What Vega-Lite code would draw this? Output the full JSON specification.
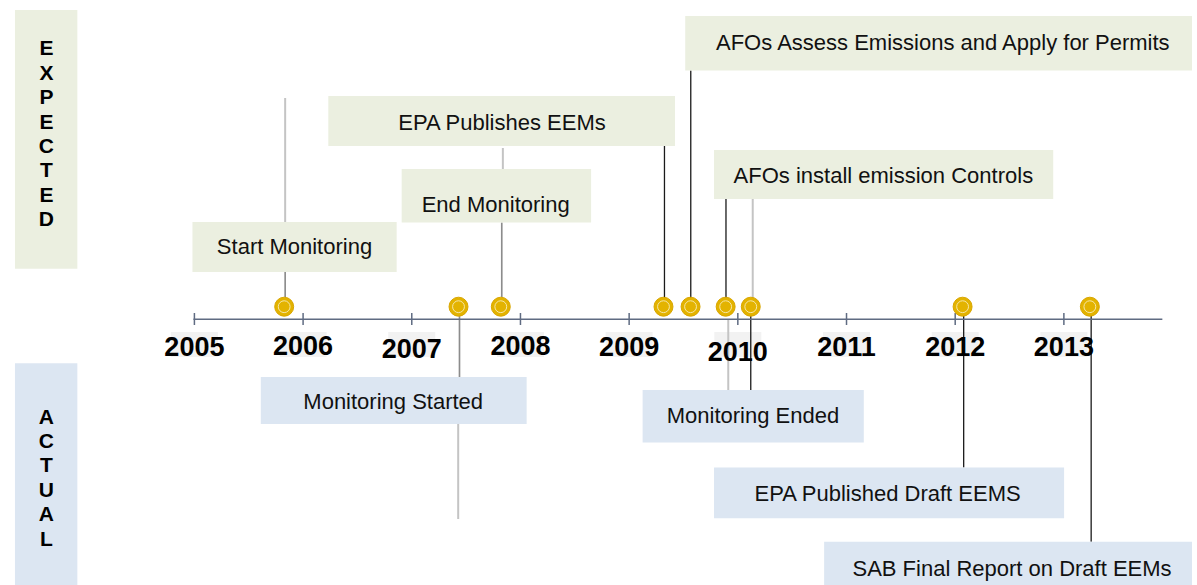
{
  "$schema": "https://vega.github.io/schema/vega-lite/v6.json",
  "width": 1197,
  "height": 585,
  "padding": 0,
  "autosize": {"type": "none"},
  "background": "white",
  "config": {"view": {"stroke": null}},
  "datasets": {
    "panels": [
      {"label": "E\nX\nP\nE\nC\nT\nE\nD", "group": "Expected", "t0": 2003.349, "t1": 2003.923, "top": 31.0, "bottom": 5.13, "tx": 2003.638, "ty": 28.16},
      {"label": "A\nC\nT\nU\nA\nL", "group": "Actual", "t0": 2003.349, "t1": 2003.923, "top": -4.33, "bottom": -26.5, "tx": 2003.638, "ty": -8.67}
    ],
    "events": [
      {"event": "Start Monitoring", "group": "Expected", "t0": 2004.982, "t1": 2006.861, "top": 9.8, "bottom": 4.8, "tx": 2005.921, "ty": 7.3},
      {"event": "EPA Publishes EEMs", "group": "Expected", "t0": 2006.232, "t1": 2009.422, "top": 22.4, "bottom": 17.4, "tx": 2007.830, "ty": 19.67},
      {"event": "End Monitoring", "group": "Expected", "t0": 2006.907, "t1": 2008.650, "top": 15.1, "bottom": 9.75, "tx": 2007.772, "ty": 11.5},
      {"event": "AFOs Assess Emissions and Apply for Permits", "group": "Expected", "t0": 2009.516, "t1": 2014.179, "top": 30.4, "bottom": 24.95, "tx": 2011.886, "ty": 27.7},
      {"event": "AFOs install emission Controls", "group": "Expected", "t0": 2009.781, "t1": 2012.902, "top": 17.0, "bottom": 12.1, "tx": 2011.339, "ty": 14.4},
      {"event": "Monitoring Started", "group": "Actual", "t0": 2005.611, "t1": 2008.057, "top": -5.7, "bottom": -10.4, "tx": 2006.829, "ty": -8.24},
      {"event": "Monitoring Ended", "group": "Actual", "t0": 2009.124, "t1": 2011.159, "top": -7.0, "bottom": -12.25, "tx": 2010.139, "ty": -9.58},
      {"event": "EPA Published Draft EEMS", "group": "Actual", "t0": 2009.781, "t1": 2013.002, "top": -14.75, "bottom": -19.83, "tx": 2011.378, "ty": -17.38},
      {"event": "SAB Final Report on Draft EEMs", "group": "Actual", "t0": 2010.794, "t1": 2014.179, "top": -22.17, "bottom": -26.5, "tx": 2012.523, "ty": -24.87}
    ],
    "connectors": [
      {"t": 2005.835, "v1": 22.2, "v2": 9.8, "kind": "faint"},
      {"t": 2005.835, "v1": 4.8, "v2": 2.3, "kind": "gray"},
      {"t": 2007.838, "v1": 17.2, "v2": 15.1, "kind": "faint"},
      {"t": 2007.828, "v1": 9.75, "v2": 2.3, "kind": "gray"},
      {"t": 2009.325, "v1": 17.4, "v2": 2.0, "kind": "main"},
      {"t": 2009.567, "v1": 24.95, "v2": 2.0, "kind": "main"},
      {"t": 2009.891, "v1": 12.1, "v2": 2.0, "kind": "main"},
      {"t": 2010.137, "v1": 12.1, "v2": 2.0, "kind": "faint"},
      {"t": 2007.439, "v1": 0.5, "v2": -5.7, "kind": "gray"},
      {"t": 2007.427, "v1": -10.4, "v2": -19.9, "kind": "faint"},
      {"t": 2010.119, "v1": 0.5, "v2": -7.0, "kind": "main"},
      {"t": 2009.912, "v1": 0.0, "v2": -7.0, "kind": "faint"},
      {"t": 2012.078, "v1": 0.5, "v2": -14.75, "kind": "main"},
      {"t": 2013.251, "v1": 0.5, "v2": -22.17, "kind": "main"}
    ],
    "markers": [
      {"event": "Start Monitoring", "t": 2005.826},
      {"event": "Monitoring Started", "t": 2007.430},
      {"event": "End Monitoring", "t": 2007.819},
      {"event": "EPA Publishes EEMs", "t": 2009.316},
      {"event": "AFOs Assess Emissions and Apply for Permits", "t": 2009.565},
      {"event": "AFOs install emission Controls", "t": 2009.888},
      {"event": "Monitoring Ended", "t": 2010.119},
      {"event": "EPA Published Draft EEMS", "t": 2012.068},
      {"event": "SAB Final Report on Draft EEMs", "t": 2013.239}
    ],
    "years": [
      {"t": 2005, "label": "2005", "ly": -3.6},
      {"t": 2006, "label": "2006", "ly": -3.5},
      {"t": 2007, "label": "2007", "ly": -3.8},
      {"t": 2008, "label": "2008", "ly": -3.5},
      {"t": 2009, "label": "2009", "ly": -3.6},
      {"t": 2010, "label": "2010", "ly": -4.1},
      {"t": 2011, "label": "2011", "ly": -3.6},
      {"t": 2012, "label": "2012", "ly": -3.6},
      {"t": 2013, "label": "2013", "ly": -3.6}
    ],
    "axisline": [{"a": 2004.991, "b": 2013.906}]
  },
  "layer": [
    {
      "data": {"name": "years"},
      "mark": {"type": "bar", "width": 47, "color": "#F2F2F2"},
      "encoding": {
        "x": {"field": "t", "type": "quantitative", "scale": {"domain": [2003.2573, 2014.1788], "nice": false, "zero": false}, "axis": null},
        "y": {"datum": -1.2, "type": "quantitative", "scale": {"domain": [-26.5, 32], "nice": false, "zero": false}, "axis": null},
        "y2": {"datum": -3.7}
      }
    },
    {
      "data": {"name": "connectors"},
      "mark": {"type": "rule"},
      "encoding": {
        "x": {"field": "t", "type": "quantitative", "scale": {"domain": [2003.2573, 2014.1788], "nice": false, "zero": false}, "axis": null},
        "y": {"field": "v1", "type": "quantitative", "scale": {"domain": [-26.5, 32], "nice": false, "zero": false}, "axis": null},
        "y2": {"field": "v2"},
        "color": {"field": "kind", "type": "nominal", "scale": {"domain": ["main", "gray", "faint"], "range": ["#1a1a1a", "#8c8c8c", "#c4c4c4"]}, "legend": null},
        "strokeWidth": {"field": "kind", "type": "ordinal", "scale": {"domain": ["main", "gray", "faint"], "range": [1.3, 2, 1]}, "legend": null}
      }
    },
    {
      "data": {"name": "events"},
      "mark": {"type": "rect"},
      "encoding": {
        "x": {"field": "t0", "type": "quantitative", "scale": {"domain": [2003.2573, 2014.1788], "nice": false, "zero": false}, "axis": null},
        "x2": {"field": "t1"},
        "y": {"field": "top", "type": "quantitative", "scale": {"domain": [-26.5, 32], "nice": false, "zero": false}, "axis": null},
        "y2": {"field": "bottom"},
        "fill": {"field": "group", "type": "nominal", "scale": {"domain": ["Expected", "Actual"], "range": ["#EBEFE0", "#DCE6F2"]}, "legend": null}
      }
    },
    {
      "data": {"name": "events"},
      "mark": {"type": "text", "font": "Liberation Sans, Arial, sans-serif", "fontSize": 22, "color": "#111111", "align": "center", "baseline": "middle"},
      "encoding": {
        "x": {"field": "tx", "type": "quantitative", "scale": {"domain": [2003.2573, 2014.1788], "nice": false, "zero": false}, "axis": null},
        "y": {"field": "ty", "type": "quantitative", "scale": {"domain": [-26.5, 32], "nice": false, "zero": false}, "axis": null},
        "text": {"field": "event"}
      }
    },
    {
      "data": {"name": "panels"},
      "mark": {"type": "rect"},
      "encoding": {
        "x": {"field": "t0", "type": "quantitative", "scale": {"domain": [2003.2573, 2014.1788], "nice": false, "zero": false}, "axis": null},
        "x2": {"field": "t1"},
        "y": {"field": "top", "type": "quantitative", "scale": {"domain": [-26.5, 32], "nice": false, "zero": false}, "axis": null},
        "y2": {"field": "bottom"},
        "fill": {"field": "group", "type": "nominal", "scale": {"domain": ["Expected", "Actual"], "range": ["#EBEFE0", "#DCE6F2"]}, "legend": null}
      }
    },
    {
      "data": {"name": "panels"},
      "mark": {"type": "text", "font": "Liberation Sans, Arial, sans-serif", "fontSize": 21, "fontWeight": "bold", "color": "#000000", "align": "center", "baseline": "top", "lineBreak": "\n", "lineHeight": 24.4},
      "encoding": {
        "x": {"field": "tx", "type": "quantitative", "scale": {"domain": [2003.2573, 2014.1788], "nice": false, "zero": false}, "axis": null},
        "y": {"field": "ty", "type": "quantitative", "scale": {"domain": [-26.5, 32], "nice": false, "zero": false}, "axis": null},
        "text": {"field": "label"}
      }
    },
    {
      "data": {"name": "axisline"},
      "mark": {"type": "rule", "color": "#5F6B82", "strokeWidth": 1.5},
      "encoding": {
        "x": {"field": "a", "type": "quantitative", "scale": {"domain": [2003.2573, 2014.1788], "nice": false, "zero": false}, "axis": null},
        "x2": {"field": "b"},
        "y": {"datum": 0.07, "type": "quantitative", "scale": {"domain": [-26.5, 32], "nice": false, "zero": false}, "axis": null}
      }
    },
    {
      "data": {"name": "years"},
      "mark": {"type": "rule", "color": "#5F6B82", "strokeWidth": 1.5},
      "encoding": {
        "x": {"field": "t", "type": "quantitative", "scale": {"domain": [2003.2573, 2014.1788], "nice": false, "zero": false}, "axis": null},
        "y": {"datum": 0.7, "type": "quantitative", "scale": {"domain": [-26.5, 32], "nice": false, "zero": false}, "axis": null},
        "y2": {"datum": -0.5}
      }
    },
    {
      "data": {"name": "markers"},
      "mark": {"type": "point", "shape": "circle", "filled": true, "size": 360, "color": "#E3B300", "stroke": "#D9A600", "strokeWidth": 1, "opacity": 1},
      "encoding": {
        "x": {"field": "t", "type": "quantitative", "scale": {"domain": [2003.2573, 2014.1788], "nice": false, "zero": false}, "axis": null},
        "y": {"datum": 1.33, "type": "quantitative", "scale": {"domain": [-26.5, 32], "nice": false, "zero": false}, "axis": null}
      }
    },
    {
      "data": {"name": "markers"},
      "mark": {"type": "point", "shape": "circle", "filled": false, "size": 140, "stroke": "#F6E7A8", "strokeWidth": 1, "opacity": 1},
      "encoding": {
        "x": {"field": "t", "type": "quantitative", "scale": {"domain": [2003.2573, 2014.1788], "nice": false, "zero": false}, "axis": null},
        "y": {"datum": 1.33, "type": "quantitative", "scale": {"domain": [-26.5, 32], "nice": false, "zero": false}, "axis": null}
      }
    },
    {
      "data": {"name": "years"},
      "mark": {"type": "text", "font": "Liberation Sans, Arial, sans-serif", "fontSize": 27, "fontWeight": "bold", "color": "#000000", "align": "center", "baseline": "alphabetic"},
      "encoding": {
        "x": {"field": "t", "type": "quantitative", "scale": {"domain": [2003.2573, 2014.1788], "nice": false, "zero": false}, "axis": null},
        "y": {"field": "ly", "type": "quantitative", "scale": {"domain": [-26.5, 32], "nice": false, "zero": false}, "axis": null},
        "text": {"field": "label"}
      }
    }
  ]
}
